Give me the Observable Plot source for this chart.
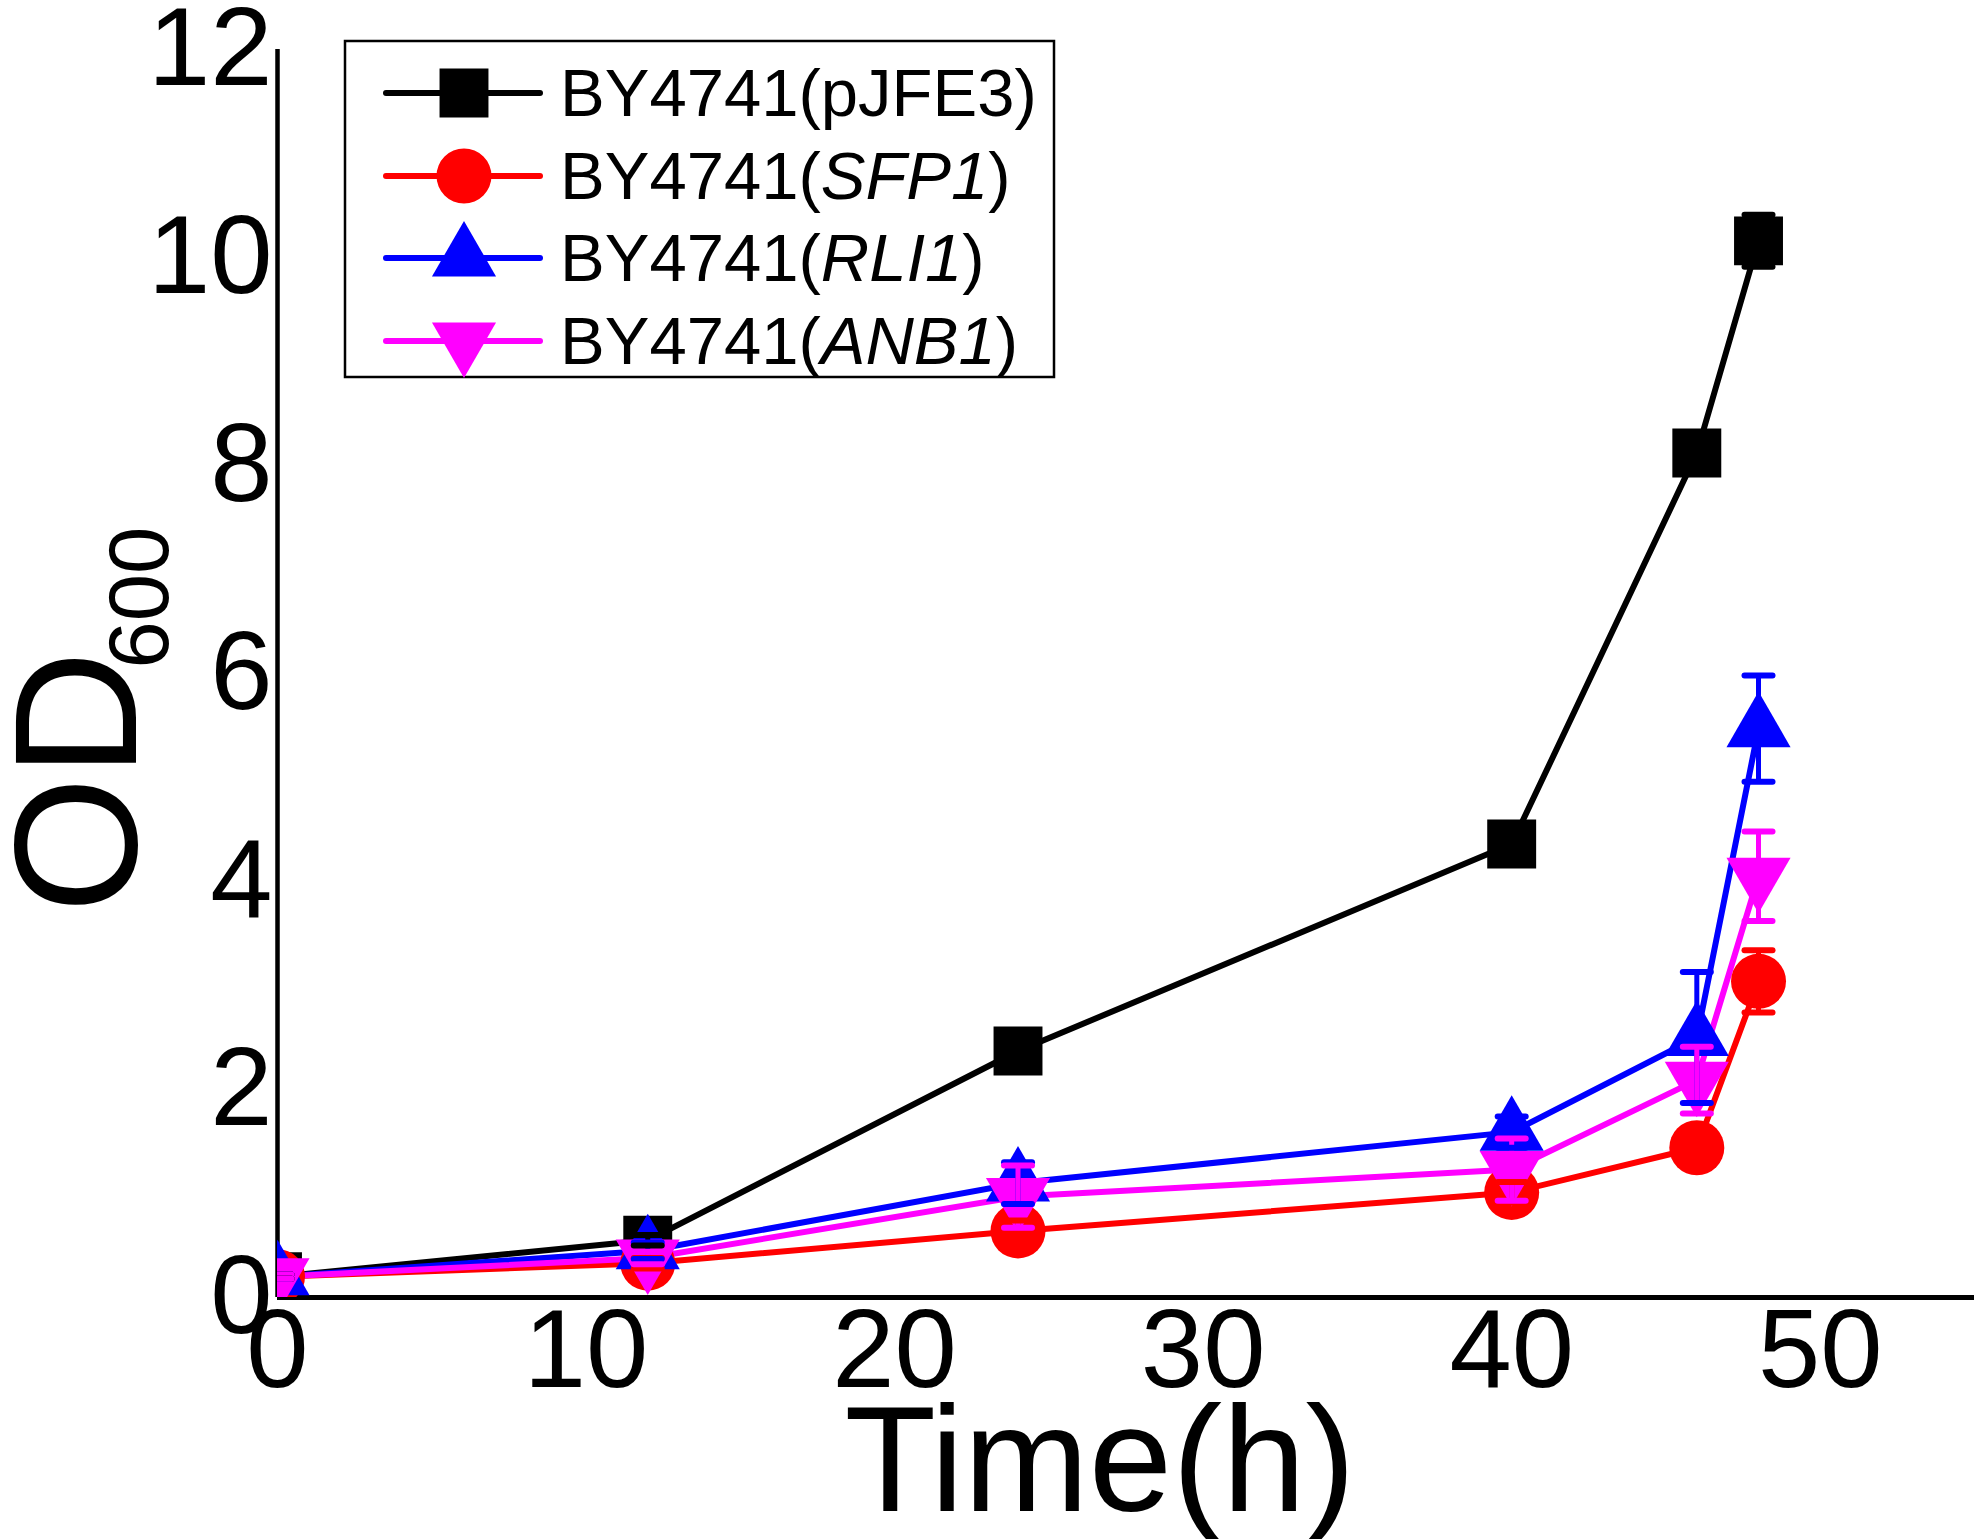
<!DOCTYPE html>
<html><head><meta charset="utf-8">
<script src="https://cdn.jsdelivr.net/npm/d3@7"></script>
<script src="https://cdn.jsdelivr.net/npm/@observablehq/plot@0.6"></script>
<style>
html,body{margin:0;padding:0;background:#fff;}
#chart{width:1983px;height:1539px;overflow:hidden;}
</style></head><body><div id="chart"></div>
<script>
// ---- data ----
const times = [0, 12, 24, 40, 46, 48];
const seriesNames = ["BY4741(pJFE3)", "BY4741(SFP1)", "BY4741(RLI1)", "BY4741(ANB1)"];
const legendPrefix = ["BY4741(", "BY4741(", "BY4741(", "BY4741("];
const legendStrain = ["pJFE3", "SFP1", "RLI1", "ANB1"];
const legendItalic = [false, true, true, true];
const pJFE3 = [0.20, 0.55, 2.37, 4.36, 8.12, 10.16];
const pJFE3Err = [0.02, 0.05, 0.08, 0.10, 0.10, 0.25];
const SFP1 = [0.20, 0.33, 0.64, 1.01, 1.44, 3.04];
const SFP1Err = [0.02, 0.05, 0.10, 0.10, 0.10, 0.30];
const RLI1 = [0.20, 0.45, 1.10, 1.59, 2.50, 5.47];
const RLI1Err = [0.02, 0.08, 0.20, 0.15, 0.63, 0.51];
const ANB1 = [0.20, 0.38, 0.97, 1.23, 2.09, 4.05];
const ANB1Err = [0.02, 0.06, 0.30, 0.30, 0.32, 0.43];
const colors = ["#000000", "#ff0000", "#0000ff", "#ff00ff"];
const xTicks = [0, 10, 20, 30, 40, 50];
const yTicks = [0, 2, 4, 6, 8, 10, 12];

const values = [pJFE3, SFP1, RLI1, ANB1];
const errs = [pJFE3Err, SFP1Err, RLI1Err, ANB1Err];
const rows = [];
seriesNames.forEach((s, i) => times.forEach((t, j) => rows.push({series: s, t, v: values[i][j], e: errs[i][j]})));

// custom symbols
const triangleDown = {
  draw(context, size) {
    const y = -Math.sqrt(size / (Math.sqrt(3) * 3));
    context.moveTo(0, -y * 2);
    context.lineTo(-Math.sqrt(3) * y, y);
    context.lineTo(Math.sqrt(3) * y, y);
    context.closePath();
  }
};
const capSymbol = {
  draw(context, size) {
    context.moveTo(-14, 0);
    context.lineTo(14, 0);
  }
};
const symbols = [d3.symbolSquare, d3.symbolCircle, d3.symbolTriangle, triangleDown];
const radii = [27.6, 27.5, 23.8, 23.8];

const FONT = "'Liberation Sans', Arial, Helvetica, sans-serif";

const marks = [
  Plot.ruleY([0], {x1: 0, x2: 55, stroke: "black", strokeWidth: 5}),
  Plot.ruleX([0], {y1: 0, y2: 12, stroke: "black", strokeWidth: 4.5}),
  Plot.line(rows, {x: "t", y: "v", z: "series", stroke: "series", strokeWidth: 6, clip: true})
];
seriesNames.forEach((s, i) => {
  marks.push(Plot.dot(rows.filter(d => d.series === s), {
    x: "t", y: "v", symbol: symbols[i], r: radii[i], fill: colors[i], stroke: "none", clip: true
  }));
});
marks.push(
  Plot.ruleX(rows, {x: "t", y1: d => d.v - d.e, y2: d => d.v + d.e, stroke: "series", strokeWidth: 5, clip: true}),
  Plot.dot(rows, {x: "t", y: d => d.v + d.e, symbol: capSymbol, r: 10, stroke: "series", fill: "none", strokeWidth: 6, strokeLinecap: "round", clip: true}),
  Plot.dot(rows, {x: "t", y: d => d.v - d.e, symbol: capSymbol, r: 10, stroke: "series", fill: "none", strokeWidth: 6, strokeLinecap: "round", clip: true}),
  Plot.axisX({ticks: xTicks, tickSize: 0, tickPadding: 10, fontSize: 112, label: null, fill: "black"}),
  Plot.axisY({ticks: yTicks, tickSize: 0, tickPadding: 5, fontSize: 112, label: null, fill: "black"})
);

const svg = Plot.plot({
  width: 1983,
  height: 1539,
  marginLeft: 277,
  marginRight: 9,
  marginTop: 49,
  marginBottom: 242,
  x: {domain: [0, 55]},
  y: {domain: [0, 12]},
  color: {domain: seriesNames, range: colors},
  style: {fontFamily: FONT, background: "white", color: "black"},
  marks
});

const sel = d3.select(svg);

// y-axis title OD600 (rotated)
const yl = sel.append("text")
  .attr("transform", "translate(136,913) rotate(-90)")
  .attr("text-anchor", "start")
  .attr("font-family", FONT)
  .attr("fill", "black");
yl.append("tspan").attr("font-size", 175).text("OD");
yl.append("tspan").attr("font-size", 85).attr("dx", -18).attr("dy", 32).text("600");

// x-axis title
sel.append("text")
  .attr("x", 1100).attr("y", 1511)
  .attr("text-anchor", "middle")
  .attr("font-family", FONT)
  .attr("font-size", 150)
  .attr("fill", "black")
  .text("Time(h)");

// legend
const lg = sel.append("g").attr("text-anchor", "start");
lg.append("rect").attr("x", 345).attr("y", 41).attr("width", 709).attr("height", 336)
  .attr("fill", "white").attr("stroke", "black").attr("stroke-width", 2.5);
const rowY = [93, 176, 258, 341];
seriesNames.forEach((s, i) => {
  const y = rowY[i];
  lg.append("line").attr("x1", 386).attr("x2", 540).attr("y1", y).attr("y2", y)
    .attr("stroke", colors[i]).attr("stroke-width", 6).attr("stroke-linecap", "round");
  lg.append("path").attr("transform", `translate(464,${y})`)
    .attr("d", d3.symbol(symbols[i], radii[i] * radii[i] * Math.PI)())
    .attr("fill", colors[i]);
  const t = lg.append("text").attr("x", 560).attr("y", y + 23)
    .attr("text-anchor", "start")
    .attr("font-family", FONT).attr("font-size", 67).attr("fill", "black");
  t.append("tspan").text(legendPrefix[i]);
  t.append("tspan").attr("font-style", legendItalic[i] ? "italic" : "normal").text(legendStrain[i]);
  t.append("tspan").text(")");
});

document.getElementById("chart").appendChild(svg);
</script>
</body></html>
